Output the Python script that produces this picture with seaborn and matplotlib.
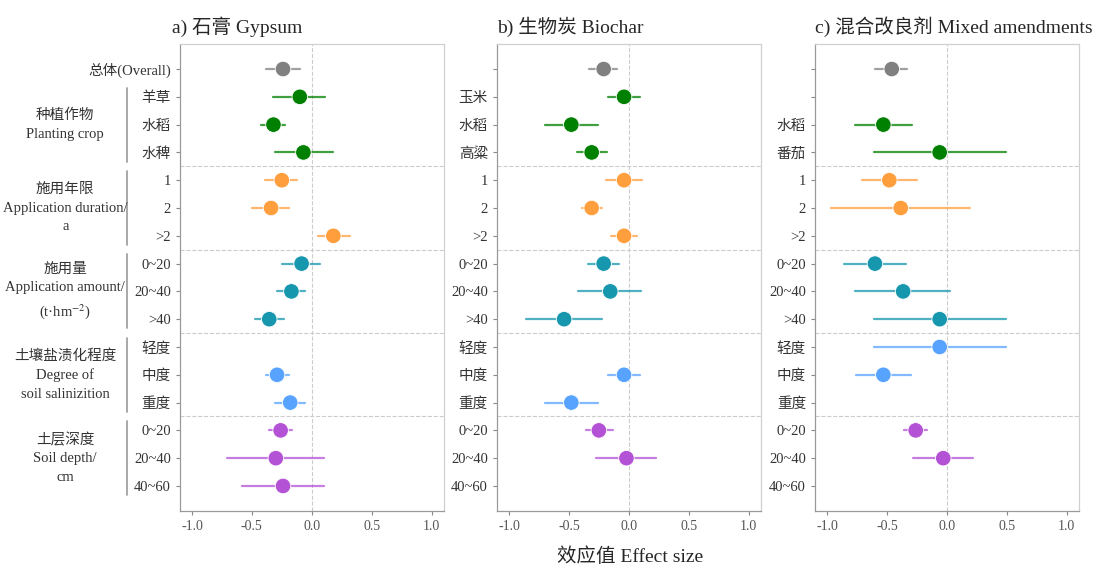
import numpy as np
import pandas as pd
import matplotlib.pyplot as plt
import seaborn as sns

nan = np.nan

# Row groups (top to bottom) shared by all three panels
row_group = ['overall', 'crop', 'crop', 'crop', 'dur', 'dur', 'dur',
             'amount', 'amount', 'amount', 'salt', 'salt', 'salt',
             'depth', 'depth', 'depth']

labels_gypsum = ['总体(Overall)', '羊草', '水稻', '水稗', '1', '2', '>2',
                 '0~20', '20~40', '>40', '轻度', '中度', '重度',
                 '0~20', '20~40', '40~60']
labels_biochar = ['', '玉米', '水稻', '高粱', '1', '2', '>2',
                  '0~20', '20~40', '>40', '轻度', '中度', '重度',
                  '0~20', '20~40', '40~60']
labels_mixed = ['', '', '水稻', '番茄', '1', '2', '>2',
                '0~20', '20~40', '>40', '轻度', '中度', '重度',
                '0~20', '20~40', '40~60']

# effect size and 95% CI
gypsum_mean = [-0.24, -0.10, -0.32, -0.07, -0.25, -0.34, 0.18,
               -0.085, -0.17, -0.355, nan, -0.29, -0.18, -0.26, -0.30, -0.24]
gypsum_lo = [-0.38, -0.32, -0.42, -0.31, -0.39, -0.50, 0.05,
             -0.245, -0.29, -0.47, nan, -0.385, -0.31, -0.36, -0.705, -0.585]
gypsum_hi = [-0.10, 0.11, -0.22, 0.18, -0.12, -0.19, 0.32,
             0.07, -0.055, -0.235, nan, -0.19, -0.055, -0.165, 0.105, 0.105]

biochar_mean = [-0.21, -0.04, -0.48, -0.31, -0.04, -0.31, -0.04,
                -0.21, -0.155, -0.54, nan, -0.04, -0.48, -0.25, -0.02, nan]
biochar_lo = [-0.33, -0.17, -0.70, -0.43, -0.19, -0.39, -0.15,
              -0.34, -0.42, -0.86, nan, -0.17, -0.70, -0.355, -0.27, nan]
biochar_hi = [-0.10, 0.09, -0.26, -0.18, 0.11, -0.22, 0.07,
              -0.085, 0.10, -0.22, nan, 0.09, -0.26, -0.135, 0.225, nan]

mixed_mean = [-0.46, nan, -0.53, -0.06, -0.48, -0.385, nan,
              -0.60, -0.365, -0.06, -0.06, -0.53, nan, -0.26, -0.03, nan]
mixed_lo = [-0.60, nan, -0.77, -0.61, -0.71, -0.97, nan,
            -0.86, -0.765, -0.61, -0.61, -0.76, nan, -0.36, -0.28, nan]
mixed_hi = [-0.33, nan, -0.29, 0.49, -0.25, 0.195, nan,
            -0.345, 0.03, 0.49, 0.49, -0.30, nan, -0.165, 0.22, nan]

group_colors = {'overall': '#808080', 'crop': '#008000', 'dur': '#FF9E3D',
                'amount': '#1797AE', 'salt': '#58A3FF', 'depth': '#B452D6'}

group_text = {'crop': '种植作物\nPlanting crop',
              'dur': '施用年限\nApplication duration/\na',
              'amount': '施用量\nApplication amount/\n(t·hm$^{-2}$)',
              'salt': '土壤盐渍化程度\nDegree of\nsoil salinizition',
              'depth': '土层深度\nSoil depth/\ncm'}

panels = [('a) 石膏 Gypsum', labels_gypsum, gypsum_mean, gypsum_lo, gypsum_hi),
          ('b) 生物炭 Biochar', labels_biochar, biochar_mean, biochar_lo, biochar_hi),
          ('c) 混合改良剂 Mixed amendments', labels_mixed, mixed_mean, mixed_lo, mixed_hi)]

sns.set_style('white')
plt.rcParams['font.family'] = ['Liberation Serif', 'Noto Sans CJK SC']
plt.rcParams['mathtext.fontset'] = 'stix'

fig = plt.figure(figsize=(10.94, 5.65), dpi=100)
lefts = [0.1645, 0.4543, 0.745]
axes = [fig.add_axes([l, 0.0956, 0.2410, 0.8265]) for l in lefts]

rows = np.arange(len(row_group))

for ax, (title, labels, mean, lo, hi) in zip(axes, panels):
    df = pd.DataFrame({'row': rows, 'group': row_group,
                       'mean': mean, 'lo': lo, 'hi': hi}).dropna()
    # error bars first, then the dots on top
    for _, r in df.iterrows():
        ax.plot([r['lo'], r['hi']], [r['row'], r['row']],
                color=group_colors[r['group']], alpha=0.75, lw=1.6, zorder=2)
    sns.scatterplot(data=df, x='mean', y='row', hue='group', palette=group_colors,
                    s=125, edgecolor='white', linewidth=0.6, legend=False,
                    ax=ax, zorder=3)

    ax.axvline(0, color='#cccccc', ls='--', lw=0.8, zorder=1)
    for b in [3.5, 6.5, 9.5, 12.5]:
        ax.axhline(b, color='#cccccc', ls='--', lw=0.8, zorder=1)

    ax.set_xlim(-1.1, 1.1)
    ax.set_ylim(15.9, -0.9)
    ax.set_xticks([-1.0, -0.5, 0.0, 0.5, 1.0])
    ax.set_xticklabels(['-1.0', '-0.5', '0.0', '0.5', '1.0'], color='#555555', fontsize=10)
    ax.set_yticks(rows)
    ax.set_yticklabels(labels, fontsize=10.5, color='#333333')
    ax.set_xlabel('')
    ax.set_ylabel('')
    ax.tick_params(axis='both', length=3, color='#888888', left=True, bottom=True)
    for side, sp in ax.spines.items():
        sp.set_color('#d0d0d0' if side in ('top', 'right') else '#999999')
        sp.set_linewidth(0.9)
    ax.set_title(title, loc='left', fontsize=14, pad=8, x=-0.03 if ax is axes[0] else 0.0)

# group labels and brackets on the left of panel a
ax0 = axes[0]
for g, txt in group_text.items():
    idx = [i for i, gg in enumerate(row_group) if gg == g]
    y0, y1 = idx[0] - 0.33, idx[-1] + 0.33
    ax0.plot([-0.20, -0.20], [y0, y1], color='#999999', lw=1.2,
             transform=ax0.get_yaxis_transform(), clip_on=False)
    ax0.text(-0.435, np.mean(idx), txt, ha='center', va='center', fontsize=10.5,
             linespacing=1.55, color='#333333',
             transform=ax0.get_yaxis_transform())

fig.text(0.576, 0.014, '效应值 Effect size', ha='center', va='center', fontsize=14)

plt.savefig('out.png', dpi=100)
plt.close()
